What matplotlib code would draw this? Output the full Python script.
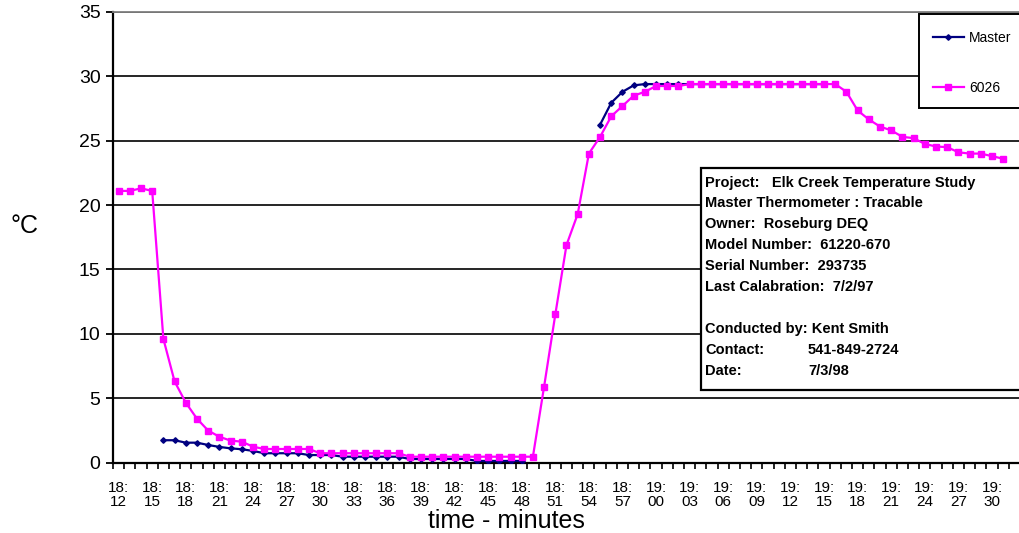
import numpy as np
import matplotlib
matplotlib.use("Agg")
import matplotlib.pyplot as plt
from matplotlib.patches import Rectangle
from matplotlib.lines import Line2D

plt.rcParams['font.family'] = ['Liberation Sans', 'DejaVu Sans']

nan = np.nan

# one reading per minute, 18:12 onwards
master = [nan, nan, nan, nan,
          1.73, 1.73, 1.54, 1.54, 1.36, 1.21, 1.10, 1.03, 0.90,
          0.72, 0.72, 0.72, 0.72,
          0.58, 0.58, 0.58,
          0.45, 0.45, 0.45, 0.45, 0.45, 0.45,
          0.27, 0.27, 0.27, 0.27, 0.27, 0.27,
          0.12, 0.12, 0.12, 0.12, 0.12,
          nan, nan, nan, nan, nan, nan,
          26.25, 27.95, 28.8, 29.3,
          29.4, 29.4, 29.4, 29.4, 29.4, 29.4, 29.4, 29.4, 29.4,
          29.4, 29.4, 29.4, 29.4, 29.4, 29.4, 29.4, 29.4,
          nan, nan, nan, nan, nan, nan, nan, nan,
          nan, nan, nan, nan, nan, nan, nan, nan]

s6026 = [21.1, 21.1, 21.3, 21.1,
         9.6, 6.3, 4.65, 3.4, 2.48, 2.0,
         1.7, 1.62, 1.23, 1.05, 1.05, 1.05, 1.05, 1.05,
         0.72, 0.72, 0.72, 0.72, 0.72, 0.72, 0.72, 0.72,
         0.45, 0.45, 0.45, 0.45, 0.45, 0.45, 0.45, 0.45, 0.45, 0.45, 0.45, 0.45,
         5.9, 11.5, 16.9, 19.3, 24.0, 25.3, 26.9, 27.7, 28.5, 28.8,
         29.25, 29.25, 29.25,
         29.4, 29.4, 29.4, 29.4, 29.4, 29.4, 29.4,
         29.4, 29.4, 29.4, 29.4, 29.4, 29.4, 29.4,
         28.8, 27.35, 26.65, 26.1, 25.8, 25.3, 25.2, 24.75,
         24.55, 24.5, 24.1, 24.0, 24.0, 23.8, 23.6]

tick_labels = ['18:\n12', '18:\n15', '18:\n18', '18:\n21', '18:\n24', '18:\n27',
               '18:\n30', '18:\n33', '18:\n36', '18:\n39', '18:\n42', '18:\n45',
               '18:\n48', '18:\n51', '18:\n54', '18:\n57', '19:\n00', '19:\n03',
               '19:\n06', '19:\n09', '19:\n12', '19:\n15', '19:\n18', '19:\n21',
               '19:\n24', '19:\n27', '19:\n30']

info_lines = ['Project:   Elk Creek Temperature Study',
              'Master Thermometer : Tracable',
              'Owner:  Roseburg DEQ',
              'Model Number:  61220-670',
              'Serial Number:  293735',
              'Last Calabration:  7/2/97',
              '',
              'Conducted by: Kent Smith',
              'Contact:',
              'Date:']
info_values = {8: '541-849-2724', 9: '7/3/98'}

W, H = 1020, 533
fig = plt.figure(figsize=(W / 100, H / 100), dpi=100)
ax = fig.add_axes([113 / W, 70.5 / H, 1 - 113 / W, 450.5 / H])

x = np.arange(len(s6026))
ax.plot(x, master, color='#000080', lw=1.6, marker='D', ms=2.8, zorder=3,
        label='Master')
ax.plot(x, s6026, color='#FF00FF', lw=1.6, marker='s', ms=5, zorder=4,
        label='6026')

ax.set_xlim(-0.5, -0.5 + 907 / 11.27)
ax.set_ylim(0, 35)

ax.set_yticks(np.arange(0, 36, 5))
ax.tick_params(axis='y', labelsize=14, length=5, width=1.3, pad=4)
ax.yaxis.grid(True, color='black', lw=1.2)
ax.set_axisbelow(True)

ax.set_xticks(np.arange(0, len(tick_labels) * 3, 3))
ax.set_xticklabels(tick_labels, linespacing=1.0)
ax.set_xticks(np.arange(-0.5, 81, 1), minor=True)
ax.tick_params(axis='x', which='major', length=0, labelsize=11, pad=13.5)
ax.tick_params(axis='x', which='minor', length=4, width=1.2)

for side in ['left', 'bottom']:
    ax.spines[side].set_linewidth(1.6)
ax.spines['right'].set_visible(False)
ax.spines['top'].set_color('#808080')
ax.spines['top'].set_linewidth(1.3)

ax.set_xlabel('time - minutes', fontsize=18)
ax.xaxis.set_label_coords((506 - 113) / 907, -0.104)
ax.set_ylabel('°C', fontsize=18, rotation=0, va='center', ha='center')
ax.yaxis.set_label_coords((25 - 113) / 907, (462.5 - 226) / 450.5)

# legend box
fig.add_artist(Rectangle((919 / W, 1 - 108 / H), 0.2, 94 / H,
                         transform=fig.transFigure, facecolor='white',
                         edgecolor='black', lw=1.4, zorder=5))
handles = [Line2D([], [], color='#000080', lw=1.6, marker='D', ms=2.8),
           Line2D([], [], color='#FF00FF', lw=1.6, marker='s', ms=5)]
leg = fig.legend(handles, ['Master', '6026'], loc='upper left',
                 bbox_to_anchor=(933 / W, 1 - 31 / H), frameon=False,
                 fontsize=10, handlelength=2.2, handletextpad=0.4,
                 labelspacing=2.6, borderpad=0, borderaxespad=0)
leg.set_zorder(6)

# info box
fig.add_artist(Rectangle((701 / W, 1 - 390 / H), 0.4, 222 / H,
                         transform=fig.transFigure, facecolor='white',
                         edgecolor='black', lw=1.6, zorder=5))
y0 = 182.5
for i, line in enumerate(info_lines):
    yy = 1 - (y0 + i * 20.9) / H
    fig.text(705 / W, yy, line, fontsize=10.5, fontweight='bold',
             va='center', ha='left', zorder=6)
    if i in info_values:
        fig.text(808 / W, yy, info_values[i], fontsize=10.5,
                 fontweight='bold', va='center', ha='left', zorder=6)

fig.savefig('out.png', dpi=100)
